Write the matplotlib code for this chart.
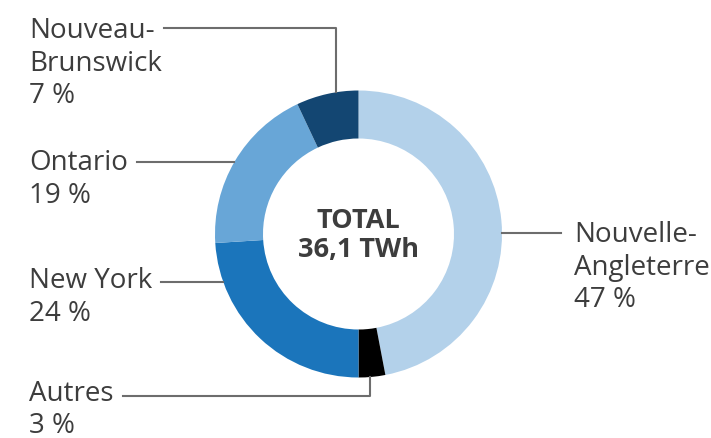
import numpy as np
import matplotlib.pyplot as plt

plt.rcParams['font.family'] = ['Open Sans', 'DejaVu Sans']

# data
regions = ['Nouvelle-\nAngleterre', 'Autres', 'New York', 'Ontario', 'Nouveau-\nBrunswick']
shares = [47, 3, 24, 19, 7]
colors = ['#b3d1ea', '#000000', '#1b75bb', '#68a6d7', '#134672']
total_label = 'TOTAL\n36,1 TWh'

W, H = 711, 439
cx, cy = 358.5, H - 235
r_out, width = 143.5, 48
text_col = '#3d3d3d'
line_col = '#6d6d6d'
fs = 20

fig = plt.figure(figsize=(W / 100, H / 100), dpi=100)
ax = fig.add_axes([0, 0, 1, 1])

ax.pie(shares, colors=colors, startangle=90, counterclock=False,
       radius=r_out, center=(cx, cy), frame=True,
       wedgeprops=dict(width=width, linewidth=0))
ax.set_xlim(0, W)
ax.set_ylim(0, H)
ax.axis('off')

ax.text(cx, cy - 0.5, total_label, ha='center', va='center', fontsize=19.5,
        fontweight='bold', color=text_col, linespacing=1.2)

# label layout (pixel positions from top-left): text x, text top y, line y, side
layout = {
    'Nouvelle-\nAngleterre': dict(tx=574, ty=221, ly=234, kind='right', sp=1.22),
    'Autres': dict(tx=29, ty=380, ly=397, kind='down', ax_x=370, sp=1.17),
    'New York': dict(tx=29, ty=267, ly=283, kind='left', sp=1.22),
    'Ontario': dict(tx=29, ty=149, ly=163, kind='left', sp=1.22),
    'Nouveau-\nBrunswick': dict(tx=29, ty=17, ly=29, kind='up', ax_x=336, sp=1.22),
}

for name, pct in zip(regions, shares):
    lay = layout[name]
    ax.text(lay['tx'], H - lay['ty'], f'{name}\n{pct} %', ha='left', va='top',
            fontsize=fs, color=text_col, linespacing=lay['sp'])
    ly = H - lay['ly']
    if lay['kind'] != 'right':
        # end of the first text line
        first = ax.text(lay['tx'], H - lay['ty'], name.split('\n')[0], ha='left', va='top',
                        fontsize=fs, alpha=0)
        fig.canvas.draw()
        inv = ax.transData.inverted()
        x0 = inv.transform((first.get_window_extent().x1, 0))[0] + 9
        first.remove()
    if lay['kind'] == 'left':
        x1 = cx - np.sqrt(r_out ** 2 - (ly - cy) ** 2)
        ax.plot([x0, x1], [ly, ly], color=line_col, lw=1.5)
    elif lay['kind'] == 'right':
        x1 = cx + np.sqrt(r_out ** 2 - (ly - cy) ** 2)
        ax.plot([x1, lay['tx'] - 13], [ly, ly], color=line_col, lw=1.5)
    else:
        xa = lay['ax_x']
        ya = cy + np.sqrt(r_out ** 2 - (xa - cx) ** 2)
        if lay['kind'] == 'down':
            ya = cy - np.sqrt(r_out ** 2 - (xa - cx) ** 2)
        ax.plot([x0, xa, xa], [ly, ly, ya], color=line_col, lw=1.5)

fig.savefig('out.png', dpi=100)
